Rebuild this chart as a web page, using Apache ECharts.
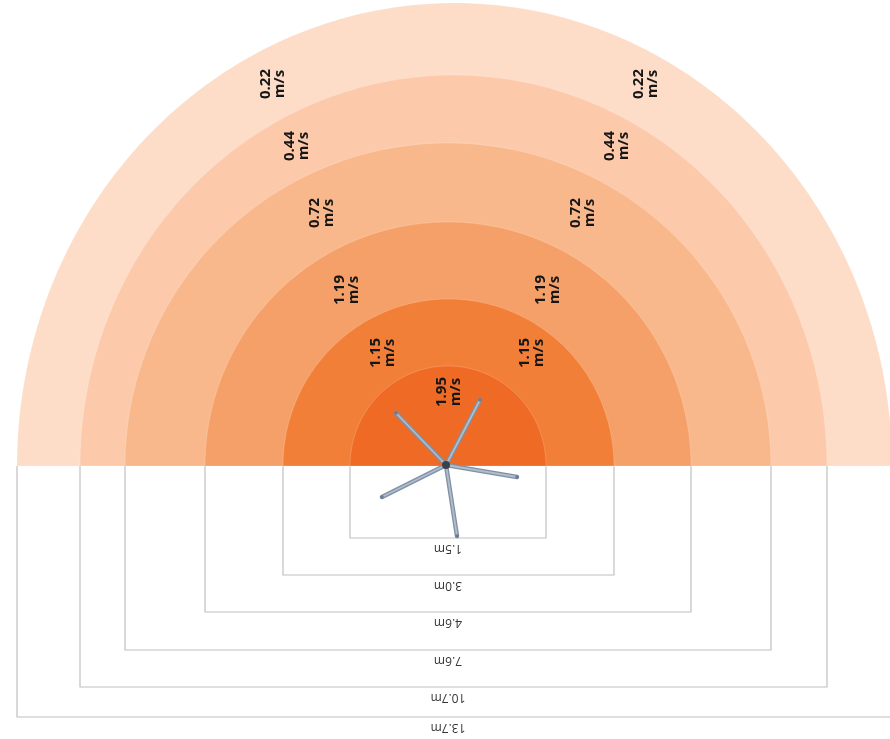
<!DOCTYPE html>
<html><head><meta charset="utf-8">
<script src="https://cdn.jsdelivr.net/npm/echarts@6/dist/echarts.min.js"></script>
<style>html,body{margin:0;padding:0;background:#fff}#c{width:890px;height:739px}</style>
</head><body><div id="c"></div>
<script>
// Zones, innermost first
const distanceLabels = ['1.5m', '3.0m', '4.6m', '7.6m', '10.7m', '13.7m'];
const speedValues = ['1.95', '1.15', '1.19', '0.72', '0.44', '0.22'];
// zone extents in drawing units (1 unit = 1 px), relative to tower base
const ringLeft = [98, 165, 243, 323, 368, 431];
const ringRight = [98, 166, 243, 323, 379, 444];
const ringTop = [100, 167, 244, 323, 391, 463];
const bracketDepth = [72, 109, 146, 184, 221, 251];
const ringColors = ['#ef6a24', '#f27f37', '#f5a068', '#f9b88b', '#fccaab', '#fddcc8'];
// speed label anchors
const speedLabelY = [74, 113, 176, 253, 320, 382];
const speedLabelLeftX = [null, -65, -101, -126, -151, -175];
const speedLabelRightX = [1, 84, 100, 135, 169, 198];
// turbine
const hubPos = [-2, 1];
const bladeTipDX = [-50, 34, 71, 11, -64];
const bladeTipDY = [52, 65, -12, -71, -32];

const chart = echarts.init(document.getElementById('c'), null, {renderer: 'canvas'});

const ringData = [5, 4, 3, 2, 1, 0].map(i => [i]);

function ringRender(params, api) {
  const i = api.value(0);
  const rx = (ringLeft[i] + ringRight[i]) / 2;
  const cx = (ringRight[i] - ringLeft[i]) / 2;
  const ry = ringTop[i];
  const pts = [];
  const n = 180;
  for (let k = 0; k <= n; k++) {
    const t = Math.PI * k / n;
    pts.push(api.coord([cx + rx * Math.cos(t), ry * Math.sin(t)]));
  }
  return {
    type: 'polygon',
    shape: {points: pts},
    style: {fill: ringColors[i], stroke: 'rgba(255,255,255,0.18)', lineWidth: 1}
  };
}

function bracketRender(params, api) {
  const i = api.value(0);
  const pts = [
    api.coord([-ringLeft[i], 0]),
    api.coord([-ringLeft[i], -bracketDepth[i]]),
    api.coord([ringRight[i], -bracketDepth[i]]),
    api.coord([ringRight[i], 0])
  ];
  const lp = api.coord([0, -bracketDepth[i] - 10]);
  return {
    type: 'group',
    children: [
      {type: 'polyline', shape: {points: pts}, style: {fill: null, stroke: '#c0c0c0', lineWidth: 1.2}},
      {type: 'text', x: lp[0], y: lp[1], rotation: Math.PI,
        style: {text: distanceLabels[i], fill: '#333', font: '12px "Open Sans", sans-serif', align: 'center', verticalAlign: 'middle'}}
    ]
  };
}

function speedLabelRender(params, api) {
  const i = api.value(0);
  const children = [];
  const xs = [speedLabelLeftX[i], speedLabelRightX[i]];
  xs.forEach(x => {
    if (x === null) return;
    const p = api.coord([x, speedLabelY[i]]);
    children.push({
      type: 'text', x: p[0], y: p[1], rotation: Math.PI / 2,
      style: {text: speedValues[i] + '\nm/s', fill: '#161616', font: 'bold 15px "Open Sans", sans-serif',
        align: 'center', verticalAlign: 'middle', lineHeight: 14}
    });
  });
  return {type: 'group', children};
}

function turbineRender(params, api) {
  const h = api.coord(hubPos);
  const children = [];
  for (let b = 0; b < bladeTipDX.length; b++) {
    const t = api.coord([hubPos[0] + bladeTipDX[b], hubPos[1] + bladeTipDY[b]]);
    children.push({type: 'line', shape: {x1: h[0], y1: h[1], x2: t[0], y2: t[1]},
      style: {stroke: '#8091a5', lineWidth: 4.5, lineCap: 'round'}});
    children.push({type: 'line', shape: {x1: h[0], y1: h[1], x2: t[0], y2: t[1]},
      style: {stroke: '#b0bdca', lineWidth: 1.8, lineCap: 'round'}});
    children.push({type: 'circle', shape: {cx: t[0], cy: t[1], r: 1.8}, style: {fill: '#6b7b90'}});
  }
  children.push({type: 'circle', shape: {cx: h[0], cy: h[1], r: 4}, style: {fill: '#3b404b'}});
  return {type: 'group', children};
}

chart.setOption({
  animation: false,
  backgroundColor: '#fff',
  grid: {left: 0, right: 0, top: 0, bottom: 0},
  xAxis: {type: 'value', min: -448, max: 442, show: false},
  yAxis: {type: 'value', min: -273, max: 466, show: false},
  series: [
    {type: 'custom', renderItem: bracketRender, data: [0, 1, 2, 3, 4, 5].map(i => [i]), silent: true, z: 1},
    {type: 'custom', renderItem: ringRender, data: ringData, silent: true, z: 2},
    {type: 'custom', renderItem: speedLabelRender, data: [0, 1, 2, 3, 4, 5].map(i => [i]), silent: true, z: 3},
    {type: 'custom', renderItem: turbineRender, data: [[0]], silent: true, z: 4}
  ]
});
</script></body></html>
